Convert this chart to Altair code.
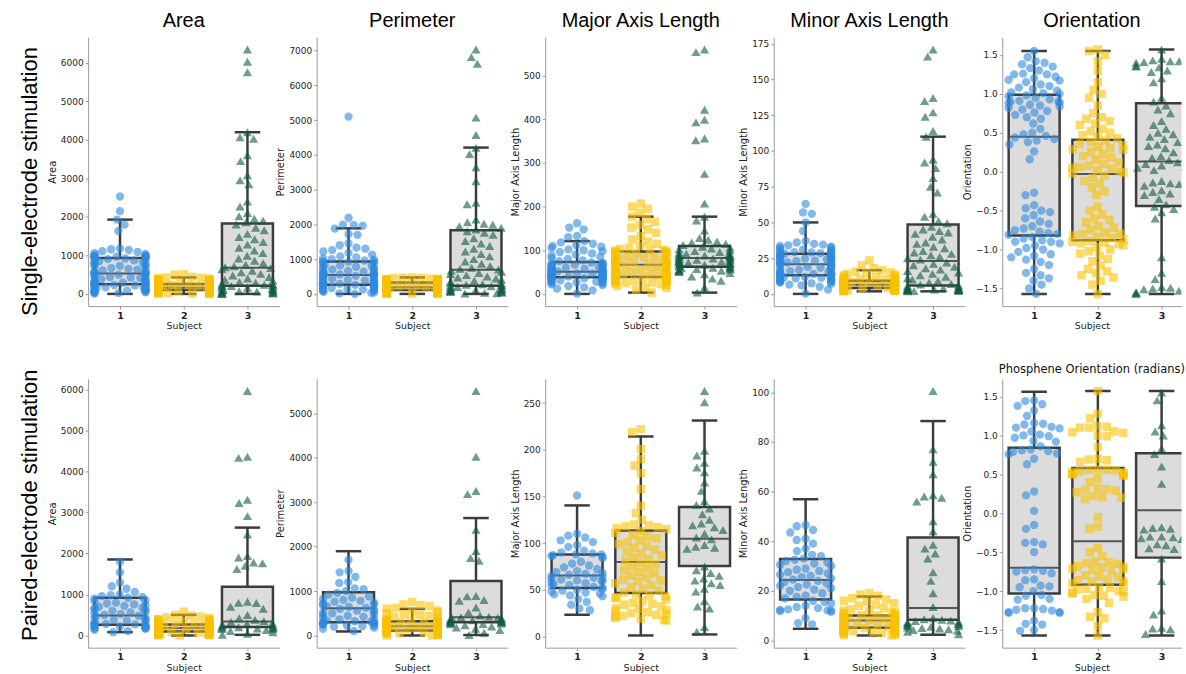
import math
import pandas as pd
import altair as alt

# ---------------- data ----------------
ROW_LABELS = ["Single-electrode stimulation", "Paired-electrode stimulation"]
METRICS = ["Area", "Perimeter", "Major Axis Length", "Minor Axis Length", "Orientation"]
SUBJECTS = ["1", "2", "3"]

# box statistics per subject: [lower whisker, q1, median, q3, upper whisker]
SINGLE_AREA_BOX = [[0, 250, 530, 930, 1930], [0, 103, 160, 258, 428], [0, 210, 680, 1830, 4200]]
SINGLE_PERIM_BOX = [[0, 265, 543, 931, 1886], [0, 114, 189, 331, 474], [0, 237, 694, 1829, 4209]]
SINGLE_MAJOR_BOX = [[0, 38, 51, 73, 121], [3, 39, 67, 97, 177], [3, 62, 82, 110, 177]]
SINGLE_MINOR_BOX = [[0, 13.1, 20.8, 28.1, 50], [1.8, 4.1, 6.4, 9.2, 16.6], [1.8, 5.8, 23, 48.5, 110]]
SINGLE_ORIENT_BOX = [[-1.57, -0.82, 0.45, 0.99, 1.55], [-1.57, -0.88, -0.03, 0.41, 1.55], [-1.57, -0.44, 0.13, 0.88, 1.57]]
PAIRED_AREA_BOX = [[81, 260, 485, 922, 1853], [0, 99, 180, 269, 502], [16, 204, 340, 1190, 2630]]
PAIRED_PERIM_BOX = [[90, 300, 613, 971, 1896], [0, 112, 210, 322, 598], [10, 300, 412, 1224, 2642]]
PAIRED_MAJOR_BOX = [[23.2, 51.9, 65.4, 87.9, 140.4], [1, 46.4, 79.7, 113.6, 214.3], [2.1, 75.4, 104.7, 138.6, 231.4]]
PAIRED_MINOR_BOX = [[4.7, 16.5, 24.4, 32.8, 56.9], [2.0, 5.1, 8.0, 10.0, 17.7], [2.3, 8.3, 13.1, 41.5, 88.4]]
PAIRED_ORIENT_BOX = [[-1.57, -1.03, -0.70, 0.84, 1.56], [-1.57, -0.92, -0.36, 0.58, 1.57], [-1.57, -0.57, 0.04, 0.77, 1.57]]

# tick labels
TICKS_AREA = [0, 1000, 2000, 3000, 4000, 5000, 6000]
TICKS_SINGLE_PERIM = [0, 1000, 2000, 3000, 4000, 5000, 6000, 7000]
TICKS_SINGLE_MAJOR = [0, 100, 200, 300, 400, 500]
TICKS_SINGLE_MINOR = [0, 25, 50, 75, 100, 125, 150, 175]
TICKS_ORIENT = [-1.5, -1.0, -0.5, 0.0, 0.5, 1.0, 1.5]
TICKS_PAIRED_PERIM = [0, 1000, 2000, 3000, 4000, 5000]
TICKS_PAIRED_MAJOR = [0, 50, 100, 150, 200, 250]
TICKS_PAIRED_MINOR = [0, 20, 40, 60, 80, 100]

# ---- single-electrode points ----
SINGLE_AREA_1 = [2530, 2150, 1930, 1800, 1630, 1180, 1160, 1140, 1110, 1090, 1060, 1040, 1010, 1000, 990, 980, 975, 965, 960, 955, 950, 945, 940, 935, 920, 905, 890, 870, 850, 830, 815, 800, 780, 760, 745, 730, 710, 690, 670, 650, 630, 610, 590, 575, 560, 550, 540, 535, 525, 515, 500, 485, 470, 455, 440, 425, 410, 395, 380, 365, 350, 335, 320, 305, 295, 285, 275, 265, 260, 255, 252, 250, 240, 230, 220, 210, 200, 190, 180, 170, 160, 150, 140, 130, 120, 110, 100, 90, 80, 70, 60, 50, 40, 30, 20, 10]
SINGLE_AREA_2 = [265, 275, 285, 295, 305, 315, 325, 335, 345, 355, 365, 375, 385, 395, 405, 415, 425, 290, 340, 440, 500, 510, 165, 170, 175, 180, 185, 190, 195, 200, 205, 210, 215, 220, 225, 230, 235, 240, 245, 250, 255, 178, 198, 218, 238, 105, 108, 111, 114, 117, 120, 123, 126, 129, 132, 135, 138, 141, 144, 147, 150, 153, 156, 159, 112, 128, 142, 155, 0, 5, 10, 15, 20, 25, 30, 35, 40, 45, 50, 55, 60, 65, 70, 75, 80, 85, 90, 95, 100, 48]
SINGLE_AREA_3 = [6350, 6030, 5760, 4200, 4070, 4030, 3600, 3450, 3080, 2950, 2850, 2400, 2270, 2100, 2020, 1950, 1900, 1860, 1800, 1720, 1650, 1560, 1480, 1420, 1350, 1280, 1200, 1130, 1060, 990, 920, 860, 800, 760, 720, 690, 670, 640, 600, 560, 520, 480, 440, 400, 370, 340, 310, 290, 270, 250, 235, 225, 215, 205, 190, 175, 160, 145, 130, 115, 100, 90, 80, 70, 60, 50, 40, 30, 20, 10, 5, 0]

SINGLE_PERIM_1 = [5100, 2190, 1990, 1980, 1960, 1880, 1720, 1700, 1450, 1400, 1330, 1300, 1260, 1220, 1180, 1130, 1080, 1050, 1020, 1000, 980, 960, 945, 935, 920, 900, 880, 860, 840, 820, 800, 780, 760, 740, 720, 700, 680, 660, 640, 620, 610, 600, 590, 580, 570, 560, 550, 545, 535, 520, 505, 490, 475, 460, 445, 430, 415, 400, 385, 370, 355, 340, 325, 315, 305, 300, 295, 290, 287, 284, 282, 280, 270, 260, 250, 240, 230, 220, 210, 200, 190, 180, 170, 160, 150, 140, 130, 120, 110, 100, 80, 60, 40, 30, 15, 0]
SINGLE_PERIM_2 = [340, 350, 360, 370, 380, 390, 400, 410, 420, 430, 440, 450, 460, 470, 345, 375, 405, 435, 355, 385, 415, 465, 195, 200, 205, 210, 220, 230, 240, 250, 260, 270, 280, 290, 300, 310, 320, 325, 215, 235, 255, 275, 295, 315, 328, 117, 120, 123, 126, 130, 134, 138, 142, 146, 150, 154, 158, 162, 166, 170, 174, 178, 182, 186, 189, 132, 152, 172, 0, 5, 10, 15, 20, 25, 30, 35, 40, 45, 50, 55, 60, 65, 70, 75, 80, 85, 90, 95, 100, 110]
SINGLE_PERIM_3 = [7030, 6810, 6620, 5070, 4570, 4200, 4020, 3640, 3240, 2620, 2580, 2140, 2060, 2020, 1990, 1950, 1900, 1850, 1800, 1760, 1700, 1600, 1520, 1450, 1380, 1300, 1220, 1150, 1080, 1000, 930, 870, 800, 750, 720, 700, 670, 640, 600, 570, 540, 500, 470, 440, 410, 380, 350, 320, 300, 280, 265, 250, 240, 235, 220, 200, 185, 170, 155, 140, 125, 110, 100, 90, 80, 70, 60, 50, 40, 30, 20, 10]

SINGLE_MAJOR_1 = [162, 152, 148, 133, 130, 121, 118, 115, 112, 110, 108, 105, 102, 100, 98, 96, 93, 90, 88, 85, 82, 80, 77, 75, 72, 71, 70, 69, 68, 67, 66, 65, 64, 63, 62, 61, 60, 59, 58, 57, 56, 55, 54, 53.5, 53, 52.5, 52, 51.5, 51, 50.5, 50, 49.5, 49, 48, 47, 46.5, 46, 45, 44.5, 44, 43, 42.5, 42, 41.5, 41, 40.5, 40, 39.5, 39, 38.5, 38.2, 38, 37.5, 37, 36.5, 36, 35, 34, 33.5, 33, 32, 31, 30, 29, 28, 27, 26, 25, 24, 22, 20, 18, 15, 12, 8, 1]
SINGLE_MAJOR_2 = [207, 200, 195, 186, 177, 172, 165, 158, 152, 148, 140, 132, 125, 120, 115, 110, 106, 103, 101, 100, 99, 98, 96, 95, 94, 93, 92, 90, 88, 86, 84, 82, 80, 78, 76, 75, 74, 73, 72, 71, 70, 69, 68.5, 68, 67.5, 66, 65, 64, 63, 62, 61, 60, 58, 56, 54, 52, 50, 48, 47, 46, 45, 44, 43, 42, 41, 40.5, 40, 39.5, 38, 37, 36, 35, 34, 33, 32, 31, 30, 29, 28, 27, 26, 25, 24, 22, 20, 18, 16, 14, 10, 3]
SINGLE_MAJOR_3 = [560, 554, 422, 399, 393, 356, 352, 275, 207, 177, 168, 145, 128, 124, 120, 118, 115, 112, 108, 106, 104, 102, 100, 98, 96, 94, 92, 91, 90, 89, 88, 87, 86, 85, 84, 83, 81, 80, 79, 78, 77, 76, 75, 74, 73, 72, 71, 70, 69, 68, 67, 65, 64, 63, 61, 60, 59, 58, 57, 56, 55, 54, 53, 52, 50, 48, 45, 40, 35, 30, 15, 3]

SINGLE_MINOR_1 = [63, 57, 56, 50, 44, 37, 36, 35, 34.5, 34, 33.5, 33, 32.5, 32, 31.5, 31, 30.5, 30, 29.5, 29.2, 29, 28.8, 28.5, 28.2, 28, 27.7, 27.4, 27.1, 26.8, 26.5, 26.2, 25.9, 25.6, 25.3, 25, 24.7, 24.4, 24.1, 23.8, 23.5, 23.2, 22.9, 22.6, 22.3, 22, 21.7, 21.4, 21.1, 20.8, 20.5, 20.2, 19.9, 19.5, 19.1, 18.7, 18.3, 17.9, 17.5, 17.1, 16.7, 16.3, 15.9, 15.5, 15.1, 14.8, 14.5, 14.2, 13.9, 13.6, 13.4, 13.2, 13, 12.7, 12.4, 12.1, 11.8, 11.5, 11.2, 10.9, 10.6, 10.3, 10, 9.7, 9.4, 9.1, 8.8, 8.5, 8.2, 7.9, 7.5, 7, 6.5, 6, 5, 3, 0.2]
SINGLE_MINOR_2 = [23.5, 20, 18, 16.6, 15.5, 15, 14.5, 14, 13.5, 13, 12.5, 12, 11.5, 11, 10.8, 10.5, 10.2, 10, 9.8, 9.6, 9.4, 9.3, 9.1, 9, 8.9, 8.7, 8.5, 8.3, 8.1, 7.9, 7.7, 7.5, 7.4, 7.3, 7.2, 7.1, 7, 6.9, 6.8, 6.7, 6.6, 6.55, 6.5, 6.45, 6.42, 6.35, 6.3, 6.2, 6.1, 6, 5.9, 5.8, 5.7, 5.6, 5.5, 5.4, 5.3, 5.2, 5.1, 5, 4.9, 4.8, 4.7, 4.6, 4.5, 4.4, 4.3, 4.2, 4.05, 4, 3.9, 3.8, 3.7, 3.6, 3.5, 3.4, 3.3, 3.2, 3.1, 3, 2.9, 2.8, 2.7, 2.6, 2.5, 2.4, 2.3, 2.2, 2, 1.8]
SINGLE_MINOR_3 = [171, 166, 137, 135, 127, 124, 114, 110, 94, 92, 88, 81, 75, 71, 56, 54, 51, 49.5, 47, 45, 44, 43, 42, 40, 38, 36, 35, 33, 32, 30, 29, 28, 27, 26, 25, 24, 22, 21, 20, 19, 18, 17, 16, 15, 14, 13, 12, 11, 10, 9, 8, 7, 6.5, 6, 5.5, 5, 4.5, 4, 3.8, 3.6, 3.4, 3.2, 3, 2.9, 2.8, 2.7, 2.6, 2.5, 2.3, 2.1, 2, 1.8]

SINGLE_ORIENT_1 = [1.55, 1.47, 1.42, 1.40, 1.38, 1.35, 1.33, 1.30, 1.26, 1.25, 1.25, 1.22, 1.20, 1.18, 1.17, 1.15, 1.12, 1.10, 1.08, 1.06, 1.04, 1.02, 1.01, 1.00, 0.98, 0.97, 0.95, 0.93, 0.91, 0.90, 0.90, 0.89, 0.88, 0.86, 0.85, 0.84, 0.82, 0.80, 0.78, 0.76, 0.73, 0.70, 0.68, 0.62, 0.55, 0.50, 0.48, 0.46, 0.44, 0.42, 0.40, 0.38, 0.35, 0.26, 0.16, -0.27, -0.30, -0.43, -0.47, -0.50, -0.52, -0.56, -0.60, -0.64, -0.67, -0.70, -0.73, -0.75, -0.77, -0.79, -0.80, -0.81, -0.84, -0.86, -0.88, -0.90, -0.90, -0.92, -0.95, -0.98, -1.00, -1.03, -1.06, -1.08, -1.10, -1.13, -1.16, -1.20, -1.25, -1.30, -1.33, -1.37, -1.40, -1.45, -1.50, -1.57]
SINGLE_ORIENT_2 = [1.57, 1.55, 1.50, 1.42, 1.30, 1.15, 1.05, 1.00, 0.95, 0.85, 0.75, 0.70, 0.68, 0.65, 0.62, 0.60, 0.55, 0.52, 0.50, 0.47, 0.45, 0.43, 0.40, 0.38, 0.36, 0.34, 0.32, 0.30, 0.29, 0.28, 0.25, 0.22, 0.20, 0.18, 0.15, 0.12, 0.10, 0.08, 0.06, 0.05, 0.04, 0.02, 0.00, -0.01, -0.02, -0.05, -0.08, -0.12, -0.15, -0.20, -0.25, -0.30, -0.45, -0.50, -0.55, -0.60, -0.62, -0.65, -0.70, -0.72, -0.75, -0.78, -0.80, -0.80, -0.82, -0.84, -0.85, -0.87, -0.89, -0.90, -0.91, -0.92, -0.93, -0.95, -0.97, -1.00, -1.02, -1.05, -1.08, -1.12, -1.15, -1.20, -1.25, -1.28, -1.30, -1.33, -1.36, -1.40, -1.45, -1.57]
SINGLE_ORIENT_3 = [1.57, 1.45, 1.43, 1.42, 1.42, 1.41, 1.40, 1.40, 1.38, 1.36, 1.35, 1.34, 1.30, 1.28, 1.20, 1.15, 0.95, 0.90, 0.85, 0.80, 0.75, 0.65, 0.60, 0.55, 0.50, 0.48, 0.45, 0.42, 0.38, 0.35, 0.33, 0.30, 0.25, 0.20, 0.18, 0.15, 0.12, 0.10, 0.08, 0.06, 0.05, 0.02, -0.12, -0.14, -0.15, -0.16, -0.18, -0.20, -0.24, -0.26, -0.28, -0.30, -0.35, -0.42, -0.45, -0.48, -0.52, -0.60, -1.10, -1.30, -1.38, -1.48, -1.49, -1.50, -1.51, -1.53, -1.54, -1.55, -1.56, -1.56, -1.57, -1.57]

# ---- paired-electrode points ----
PAIRED_AREA_1 = [1800, 1540, 1290, 1200, 1140, 1060, 1000, 980, 960, 940, 920, 900, 860, 830, 800, 780, 760, 740, 720, 700, 680, 660, 640, 620, 600, 580, 560, 540, 520, 500, 480, 460, 440, 420, 400, 380, 360, 340, 320, 300, 280, 270, 260, 250, 240, 230, 220, 210, 200, 190, 180, 170, 160, 140, 110, 80]
PAIRED_AREA_2 = [580, 500, 480, 460, 440, 420, 400, 390, 380, 370, 360, 350, 340, 330, 320, 310, 300, 290, 280, 270, 265, 260, 255, 250, 245, 240, 235, 230, 225, 220, 215, 210, 205, 200, 195, 190, 185, 180, 175, 170, 165, 160, 155, 150, 145, 140, 135, 130, 125, 120, 115, 110, 105, 100, 95, 90, 85, 80, 75, 70, 65, 60, 55, 50, 45, 40, 35, 30, 25, 20, 15, 10, 5, 0, 200, 150]
PAIRED_AREA_3 = [5960, 4360, 4330, 3310, 3230, 2910, 2460, 1940, 1900, 1780, 1760, 1700, 1620, 820, 800, 790, 700, 650, 500, 420, 380, 350, 330, 300, 280, 260, 240, 220, 210, 200, 190, 180, 170, 160, 150, 130, 110, 80, 40, 16]

PAIRED_PERIM_1 = [1700, 1450, 1420, 1320, 1200, 1180, 1060, 1040, 1000, 960, 920, 880, 850, 820, 800, 780, 760, 740, 720, 700, 680, 660, 640, 620, 600, 580, 560, 540, 520, 500, 480, 460, 440, 420, 400, 380, 360, 340, 320, 310, 300, 295, 290, 285, 280, 270, 260, 250, 240, 230, 220, 210, 200, 180, 150, 100]
PAIRED_PERIM_2 = [750, 700, 680, 660, 620, 600, 560, 540, 520, 500, 480, 460, 440, 420, 400, 380, 360, 340, 330, 320, 315, 310, 305, 300, 295, 290, 285, 280, 275, 270, 265, 260, 255, 250, 245, 240, 235, 230, 225, 220, 215, 210, 205, 200, 195, 190, 185, 180, 175, 170, 165, 160, 155, 150, 145, 140, 135, 130, 125, 120, 115, 110, 100, 90, 80, 70, 60, 50, 40, 30, 20, 10, 5, 0, 260, 180]
PAIRED_PERIM_3 = [5500, 4020, 3250, 3180, 2380, 1900, 1740, 1680, 890, 880, 800, 780, 630, 520, 450, 420, 410, 400, 390, 380, 370, 360, 350, 340, 330, 320, 310, 300, 290, 280, 270, 260, 250, 230, 200, 180, 150, 120, 60, 10]

PAIRED_MAJOR_1 = [151, 110, 108, 106, 103, 101, 98, 96, 92, 90, 89, 88, 88, 87, 86, 85, 84, 80, 78, 76, 74, 72, 70, 69, 68, 67, 66, 65, 64, 63, 62, 61, 60, 60, 59, 58, 57, 56, 55, 54, 53, 52, 51, 50, 49, 48, 47, 46, 45, 44, 43, 40, 37, 34, 30, 28]
PAIRED_MAJOR_2 = [222, 219, 201, 190, 183, 175, 158, 140, 132, 125, 120, 119, 118, 117, 116, 115, 113, 111, 109, 107, 105, 103, 101, 99, 97, 95, 93, 91, 89, 87, 85, 83, 81, 79, 77, 75, 73, 71, 69, 67, 65, 63, 61, 59, 57, 55, 53, 51, 49, 47, 45, 44, 43, 42, 41, 40, 38, 36, 34, 32, 30, 29, 28, 27, 26, 25, 24, 23, 22, 21, 20, 19, 18, 17, 35, 60]
PAIRED_MAJOR_3 = [263, 251, 199, 194, 186, 181, 176, 165, 156, 145, 141, 137, 131, 125, 121, 119, 117, 114, 110, 106, 104, 98, 96, 95, 94, 75, 71, 68, 65, 62, 60, 57, 55, 51, 48, 38, 32, 30, 10, 5]

PAIRED_MINOR_1 = [46.5, 46, 44.5, 43.5, 41, 40.5, 39, 37, 36, 34.5, 34, 33, 32.5, 32, 31.5, 31, 30.5, 30, 29, 28.5, 28, 27.5, 27, 26.5, 26, 25.5, 25, 24.5, 24, 23.5, 23, 22.5, 22, 21.5, 21, 20.5, 20, 19, 18, 17.5, 17, 16, 15.5, 15, 14, 13.5, 13, 12.5, 12.3, 12.1, 12, 11.8, 11.5, 9, 7, 6.5]
PAIRED_MINOR_2 = [19, 18.5, 18, 17, 16.5, 16, 15.5, 15, 14.5, 14, 13, 12.5, 12, 11.8, 11.5, 11.2, 11, 10.8, 10.5, 10.2, 10, 9.8, 9.6, 9.4, 9.2, 9, 8.8, 8.6, 8.4, 8.2, 8.1, 8, 7.9, 7.8, 7.6, 7.4, 7.2, 7, 6.8, 6.6, 6.4, 6.2, 6, 5.8, 5.6, 5.4, 5.2, 5.1, 5, 4.9, 4.8, 4.7, 4.6, 4.5, 4.4, 4.3, 4.2, 4.1, 4, 3.9, 3.8, 3.7, 3.6, 3.5, 3.4, 3.3, 3.2, 3.1, 3, 2.8, 2.6, 2.4, 2.2, 2, 7.5, 8.5]
PAIRED_MINOR_3 = [100.5, 77, 72, 67, 58.5, 58, 57.5, 56, 48, 44, 38.5, 37, 35, 33, 27.5, 24, 19, 13.5, 9, 8.5, 8.3, 8, 7.8, 7.5, 7.2, 7, 6.8, 6.5, 6.2, 6, 5.8, 5.5, 5.2, 5, 4.8, 4.5, 4.2, 4, 3.5, 2.5]

PAIRED_ORIENT_1 = [1.45, 1.44, 1.40, 1.38, 1.32, 1.25, 1.16, 1.15, 1.14, 1.11, 1.10, 1.09, 1.05, 1.01, 1.00, 0.99, 0.97, 0.93, 0.92, 0.86, 0.82, 0.81, 0.80, 0.79, 0.77, 0.76, 0.70, 0.63, 0.28, 0.23, 0.03, -0.15, -0.20, -0.37, -0.38, -0.40, -0.50, -0.72, -0.73, -0.74, -0.75, -0.77, -0.85, -0.86, -0.93, -0.94, -0.95, -1.00, -1.05, -1.06, -1.10, -1.11, -1.22, -1.23, -1.24, -1.25, -1.22, -1.27, -1.27, -1.28, -1.28, -1.38, -1.42, -1.43, -1.50, -1.51]
PAIRED_ORIENT_2 = [1.57, 1.28, 1.22, 1.12, 1.11, 1.10, 1.10, 1.05, 1.04, 1.03, 1.00, 0.99, 0.85, 0.70, 0.69, 0.68, 0.66, 0.57, 0.56, 0.56, 0.55, 0.54, 0.53, 0.52, 0.52, 0.50, 0.50, 0.49, 0.48, 0.45, 0.40, 0.32, 0.31, 0.30, 0.29, 0.27, 0.22, 0.21, 0.20, 0.18, -0.05, -0.17, -0.20, -0.45, -0.50, -0.55, -0.62, -0.63, -0.64, -0.65, -0.68, -0.69, -0.70, -0.71, -0.72, -0.73, -0.74, -0.80, -0.81, -0.82, -0.85, -0.86, -0.87, -0.88, -0.90, -0.91, -0.95, -0.96, -0.97, -0.98, -1.00, -1.01, -1.02, -1.03, -1.05, -1.06, -1.07, -1.10, -1.15, -1.27, -1.33, -1.35, -1.45, -1.57]
PAIRED_ORIENT_3 = [1.55, 1.45, 1.13, 1.05, 1.00, 0.83, 0.76, 0.60, 0.38, -0.18, -0.19, -0.20, -0.21, -0.30, -0.30, -0.31, -0.32, -0.33, -0.40, -0.41, -0.45, -0.46, -0.58, -0.87, -1.25, -1.30, -1.47, -1.48, -1.49, -1.55]

# ---------------- styling ----------------
COLORS = ["#2e8ae0", "#f8c200", "#0f5a45"]
SHAPES = ["circle", "square", "triangle-up"]
SIZES = [70, 72, 85]
DARK = "#3c3c3c"
BOX_FILL = "#dcdcdc"
PLOT_H = 270
BAND = 64.0        # pixels per subject
MARK_D = 9.0       # swarm spacing in pixels
HALF_W = 0.4 * BAND
AX_FONT = "DejaVu Sans"
TITLE_FONT = "Liberation Sans"


def swarm(ypix):
    """beeswarm layout: horizontal pixel offsets for points at vertical pixel ypix"""
    n = len(ypix)
    order = sorted(range(n), key=lambda i: ypix[i])
    placed = []
    out = [0.0] * n
    for i in order:
        y = ypix[i]
        near = [(px, py) for px, py in placed if abs(py - y) < MARK_D]
        cands = [0.0]
        for px, py in near:
            dx = math.sqrt(max(MARK_D * MARK_D - (py - y) ** 2, 0.0))
            cands.extend([px + dx, px - dx])
        cands.sort(key=lambda c: (abs(c), c))
        chosen = cands[-1]
        for c in cands:
            if all((c - px) ** 2 + (y - py) ** 2 >= MARK_D * MARK_D - 1e-6 for px, py in near):
                chosen = c
                break
        placed.append((chosen, y))
        out[i] = max(-HALF_W, min(HALF_W, chosen))
    return out


def panel(lists, box, ticks, ytitle, fmt, width, title=None):
    allv = [v for l in lists for v in l] + [v for b in box for v in b]
    lo, hi = min(allv), max(allv)
    pad = 0.05 * (hi - lo)
    dlo, dhi = lo - pad, hi + pad
    clip = width < 3 * BAND
    xs = alt.Scale(domain=[0.5, 0.5 + width / BAND], nice=False, zero=False)
    ys = alt.Scale(domain=[dlo, dhi], nice=False, zero=False)
    xa = alt.Axis(values=[1, 2, 3], format="d", title="Subject", labelFontWeight="bold",
                  labelPadding=1, titlePadding=1, labelFontSize=9.5, titleFontSize=9.5)
    ya = alt.Axis(values=ticks, format=fmt, title=ytitle)

    bdf = pd.DataFrame([
        {"s": i + 1, "lo": b[0], "q1": b[1], "med": b[2], "q3": b[3], "hi": b[4],
         "xl": i + 1 - 0.4, "xr": i + 1 + 0.4, "cl": i + 1 - 0.2, "cr": i + 1 + 0.2}
        for i, b in enumerate(box)])
    base = alt.Chart(bdf)
    layers = [
        base.mark_rule(color=DARK, strokeWidth=2.5, clip=clip).encode(
            x=alt.X("s:Q", scale=xs, axis=xa), y=alt.Y("lo:Q", scale=ys, axis=ya), y2="hi:Q"),
        base.mark_rect(fill=BOX_FILL, stroke=DARK, strokeWidth=2.5, clip=clip).encode(
            x=alt.X("xl:Q", scale=xs, axis=xa), x2="xr:Q", y=alt.Y("q1:Q", scale=ys, axis=ya), y2="q3:Q"),
        base.mark_rule(color="#555555", strokeWidth=2, clip=clip).encode(
            x=alt.X("xl:Q", scale=xs, axis=xa), x2="xr:Q", y=alt.Y("med:Q", scale=ys, axis=ya)),
        base.mark_rule(color=DARK, strokeWidth=2.5, clip=clip).encode(
            x=alt.X("cl:Q", scale=xs, axis=xa), x2="cr:Q", y=alt.Y("hi:Q", scale=ys, axis=ya)),
        base.mark_rule(color=DARK, strokeWidth=2.5, clip=clip).encode(
            x=alt.X("cl:Q", scale=xs, axis=xa), x2="cr:Q", y=alt.Y("lo:Q", scale=ys, axis=ya)),
    ]
    for si, vals in enumerate(lists):
        ypix = [(dhi - v) / (dhi - dlo) * PLOT_H for v in vals]
        offs = swarm(ypix)
        df = pd.DataFrame({"x": [si + 1 + o / BAND for o in offs], "v": vals})
        layers.append(
            alt.Chart(df).mark_point(shape=SHAPES[si], filled=True, size=SIZES[si], color=COLORS[si],
                                     opacity=0.6, strokeOpacity=0, clip=clip).encode(
                x=alt.X("x:Q", scale=xs, axis=xa), y=alt.Y("v:Q", scale=ys, axis=ya)))
    ch = alt.layer(*layers).properties(width=width, height=PLOT_H)
    if title is not None:
        ch = ch.properties(title=title)
    return ch


def col_title(text):
    return alt.TitleParams(text=text, fontSize=20, font=TITLE_FONT, fontWeight="normal",
                           color="#000000", offset=6, anchor="middle")


def row_label(text, ycenter):
    return alt.Chart(pd.DataFrame({"t": [text]})).mark_text(
        angle=270, fontSize=22, font=TITLE_FONT, color="#000000", align="center", baseline="middle"
    ).encode(text="t:N", x=alt.value(30), y=alt.value(ycenter)).properties(width=50.5, height=PLOT_H)


WIDTHS = [192, 192, 192, 192, 180]

single = [
    ([SINGLE_AREA_1, SINGLE_AREA_2, SINGLE_AREA_3], SINGLE_AREA_BOX, TICKS_AREA, "d"),
    ([SINGLE_PERIM_1, SINGLE_PERIM_2, SINGLE_PERIM_3], SINGLE_PERIM_BOX, TICKS_SINGLE_PERIM, "d"),
    ([SINGLE_MAJOR_1, SINGLE_MAJOR_2, SINGLE_MAJOR_3], SINGLE_MAJOR_BOX, TICKS_SINGLE_MAJOR, "d"),
    ([SINGLE_MINOR_1, SINGLE_MINOR_2, SINGLE_MINOR_3], SINGLE_MINOR_BOX, TICKS_SINGLE_MINOR, "d"),
    ([SINGLE_ORIENT_1, SINGLE_ORIENT_2, SINGLE_ORIENT_3], SINGLE_ORIENT_BOX, TICKS_ORIENT, ".1f"),
]
paired = [
    ([PAIRED_AREA_1, PAIRED_AREA_2, PAIRED_AREA_3], PAIRED_AREA_BOX, TICKS_AREA, "d"),
    ([PAIRED_PERIM_1, PAIRED_PERIM_2, PAIRED_PERIM_3], PAIRED_PERIM_BOX, TICKS_PAIRED_PERIM, "d"),
    ([PAIRED_MAJOR_1, PAIRED_MAJOR_2, PAIRED_MAJOR_3], PAIRED_MAJOR_BOX, TICKS_PAIRED_MAJOR, "d"),
    ([PAIRED_MINOR_1, PAIRED_MINOR_2, PAIRED_MINOR_3], PAIRED_MINOR_BOX, TICKS_PAIRED_MINOR, "d"),
    ([PAIRED_ORIENT_1, PAIRED_ORIENT_2, PAIRED_ORIENT_3], PAIRED_ORIENT_BOX, TICKS_ORIENT, ".1f"),
]

charts = [row_label(ROW_LABELS[0], 145)]
for k, (lists, box, ticks, fmt) in enumerate(single):
    charts.append(panel(lists, box, ticks, METRICS[k], fmt, WIDTHS[k], col_title(METRICS[k])))
charts.append(row_label(ROW_LABELS[1], 127))
for k, (lists, box, ticks, fmt) in enumerate(paired):
    t = None
    if k == 4:
        t = alt.TitleParams(text="Phosphene Orientation (radians)", fontSize=11.5, font=AX_FONT,
                            fontWeight="normal", color="#111111", offset=3, anchor="middle")
    charts.append(panel(lists, box, ticks, METRICS[k], fmt, WIDTHS[k], t))

chart = alt.concat(*charts, columns=6, spacing={"row": 73, "column": 37.5}, bounds="flush").properties(
    padding={"left": 0, "top": 10, "right": 0, "bottom": 0}
).configure_view(stroke=None).configure_axis(
    grid=False, labelFont=AX_FONT, titleFont=AX_FONT, labelFontSize=9, titleFontSize=10,
    labelColor="#222222", titleColor="#222222", titleFontWeight="normal",
    domainColor="#9a9a9a", tickColor="#9a9a9a", tickSize=3, labelPadding=2, titlePadding=3
)

chart.save("out.html", embed_options={"renderer": "svg", "actions": False})
